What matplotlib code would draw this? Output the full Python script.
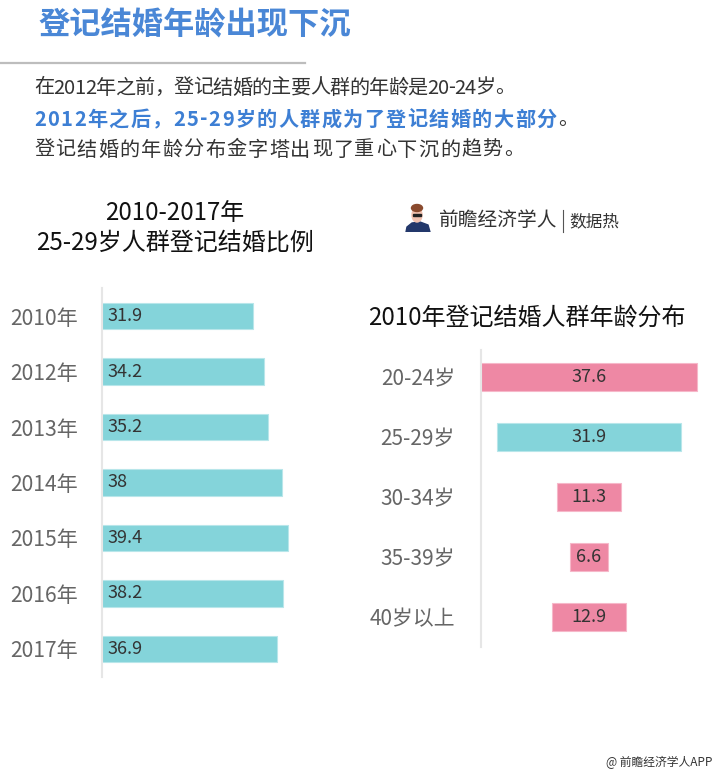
import matplotlib
matplotlib.use("Agg")
import matplotlib.pyplot as plt
from matplotlib.patches import Rectangle, Ellipse, Polygon

plt.rcParams['font.family'] = ['Noto Sans CJK SC', 'DejaVu Sans']

# ---- data ----
years = ['2010年', '2012年', '2013年', '2014年', '2015年', '2016年', '2017年']
share_2529 = [31.9, 34.2, 35.2, 38, 39.4, 38.2, 36.9]
age_groups = ['20-24岁', '25-29岁', '30-34岁', '35-39岁', '40岁以上']
dist_2010 = [37.6, 31.9, 11.3, 6.6, 12.9]

TEAL = '#84d4da'
PINK = '#ee88a4'
BLUE = '#4a87d6'
W, H = 720, 774
PX2PT = 0.72  # pixels -> points at dpi 100

fig = plt.figure(figsize=(W / 100, H / 100), dpi=100)
fig.patch.set_facecolor('white')
renderer = fig.canvas.get_renderer()


def fx(x):
    return x / W


def fy(y):
    return 1 - y / H


def tracked(x0, x1, y, segments, size):
    """Draw text segments char by char, spread so the line runs from x0 to x1 (pixels)."""
    chars = []
    for s, color, weight in segments:
        for ch in s:
            chars.append((ch, color, weight))
    arts, widths = [], []
    for ch, color, weight in chars:
        t = fig.text(0, fy(y), ch, fontsize=size, color=color, fontweight=weight,
                     ha='left', va='center')
        widths.append(t.get_window_extent(renderer).width)
        arts.append(t)
    natural = sum(widths)
    extra = (x1 - x0 - natural) / max(len(chars) - 1, 1)
    x = x0
    for t, w in zip(arts, widths):
        t.set_x(fx(x))
        x += w + extra


# title
fig.text(fx(38), fy(25), '登记结婚年龄出现下沉', fontsize=22.5, color=BLUE,
         fontweight='heavy', ha='left', va='center')
fig.add_artist(plt.Line2D([0, fx(305)], [fy(63), fy(63)], color='#bdbdbd', lw=1.6))

# paragraph
tracked(34, 515, 88, [('在2012年之前，登记结婚的主要人群的年龄是20-24岁。', '#333333', 'normal')], 14.5)
tracked(34, 578, 119, [('2012年之后，25-29岁的人群成为了登记结婚的大部分', '#3d7fd4', 'bold'),
                       ('。', '#333333', 'normal')], 14.5)
tracked(34, 524, 150, [('登记结婚的年龄分布金字塔出现了重心下沉的趋势。', '#333333', 'normal')], 14.5)

# left chart title
fig.text(fx(175), fy(213), '2010-2017年', fontsize=17.3, color='#111111', ha='center', va='center')
fig.text(fx(175), fy(243), '25-29岁人群登记结婚比例', fontsize=17.3, color='#111111', ha='center', va='center')

# right chart title
fig.text(fx(368), fy(318), '2010年登记结婚人群年龄分布', fontsize=17.3, color='#111111', ha='left', va='center')

# logo
lax = fig.add_axes([fx(404), fy(232), fx(28), 30 / H])
lax.set_xlim(0, 28); lax.set_ylim(0, 30); lax.axis('off')
lax.add_patch(Polygon([[2, 0], [26, 0], [24, 7], [16, 10], [8, 9], [3, 5]], closed=True, color='#23386b'))
lax.add_patch(Ellipse((13, 17), 10, 14, color='#f2c2b0'))
lax.add_patch(Ellipse((13, 24), 11, 7, color='#8a4a2e'))
lax.add_patch(Rectangle((9, 16), 8, 2, color='#222222'))
fig.text(fx(439), fy(221), '前瞻经济学人', fontsize=14.2, color='#333333', ha='left', va='center')
fig.add_artist(plt.Line2D([fx(563), fx(563)], [fy(210), fy(232)], color='#555555', lw=0.8))
fig.text(fx(569), fy(222), '数据热', fontsize=12, color='#333333', ha='left', va='center')

# footer
fig.text(fx(712), fy(762), '@ 前瞻经济学人APP', fontsize=8.5, color='#333333', ha='right', va='center')

# ---- left chart ----
axL = fig.add_axes([fx(102), fy(677), fx(250), (677 - 288) / H])
yl = list(range(len(years)))
axL.barh(yl, share_2529, height=0.47, color=TEAL, edgecolor='#b8e6ea', linewidth=0.8)
for i, v in enumerate(share_2529):
    axL.text(1.2, i, f'{v:g}', fontsize=13, color='#333333', ha='left', va='center')
axL.set_xlim(0, 250 / 4.73)
axL.set_ylim(6.505, -0.505)
axL.set_yticks(yl)
axL.set_yticklabels(years, fontsize=15.2, color='#666666')
axL.tick_params(axis='y', length=0, pad=24 * PX2PT)
axL.set_xticks([])
for s in ['top', 'right', 'bottom']:
    axL.spines[s].set_visible(False)
axL.spines['left'].set_color('#e6e6e6')
axL.spines['left'].set_linewidth(1.5)
axL.patch.set_alpha(0)

# ---- right chart ----
scale = 5.74
axR = fig.add_axes([fx(481), fy(647), fx(239), (647 - 350) / H])
yr = list(range(len(age_groups)))
cols = [TEAL if a == '25-29岁' else PINK for a in age_groups]
edges = ['#b8e6ea' if a == '25-29岁' else '#f6b8c9' for a in age_groups]
axR.barh(yr, dist_2010, left=[-v / 2 for v in dist_2010], height=0.47, color=cols,
         edgecolor=edges, linewidth=0.8)
for i, v in enumerate(dist_2010):
    axR.text(0, i, f'{v:g}', fontsize=13, color='#333333', ha='center', va='center')
axR.set_xlim((481 - 589) / scale, (720 - 589) / scale)
axR.set_ylim(4.5, -0.45)
axR.set_yticks(yr)
axR.set_yticklabels(age_groups, fontsize=15, color='#666666')
axR.tick_params(axis='y', length=0, pad=26 * PX2PT)
axR.set_xticks([])
for s in ['top', 'right', 'bottom']:
    axR.spines[s].set_visible(False)
axR.spines['left'].set_color('#e6e6e6')
axR.spines['left'].set_linewidth(1.5)
axR.patch.set_alpha(0)

fig.savefig('out.png', dpi=100, facecolor='white')
